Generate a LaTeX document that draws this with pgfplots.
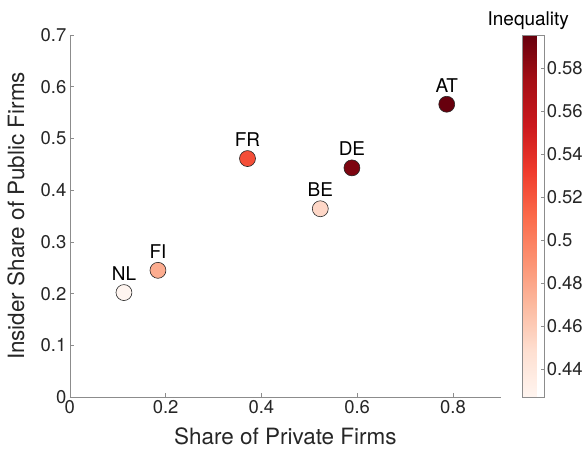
\documentclass[border=0pt]{standalone}
\usepackage{fontspec}
\setmainfont{TeX Gyre Heros}
\usepackage{pgfplots}
\pgfplotsset{compat=1.18}
\definecolor{txt}{RGB}{38,38,38}
\definecolor{axl}{RGB}{140,140,140}
\pgfplotstableread{
x y c lbl
0.113 0.202 0.427 NL
0.184 0.245 0.477 FI
0.371 0.461 0.524 FR
0.523 0.364 0.453 BE
0.589 0.443 0.588 DE
0.787 0.566 0.5954 AT
}\pointsdata
\begin{document}
\begin{tikzpicture}
\begin{axis}[
  name=ax,
  scale only axis, width=432bp, height=363bp,
  xmin=0, xmax=0.9, ymin=0, ymax=0.7,
  xtick={0,0.2,0.4,0.6,0.8},
  ytick={0,0.1,0.2,0.3,0.4,0.5,0.6,0.7},
  axis x line*=bottom, axis y line*=left,
  axis line style={-, draw=axl, line width=0.6bp},
  tick align=inside, major tick length=4bp,
  tick style={draw=axl, line width=0.5bp},
  /pgf/number format/assume math mode=true,
  ticklabel style={font=\fontsize{18.5bp}{18.5bp}\selectfont, text=txt},
  xlabel={Share of Private Firms},
  ylabel={Insider Share of Public Firms},
  label style={font=\fontsize{22.5bp}{22.5bp}\selectfont, text=txt},
  xlabel style={at={(axis description cs:0.5,-0.1074)}, anchor=center},
  ylabel style={at={(axis description cs:-0.125,0.5)}, anchor=center},
  colormap={reds}{rgb255=(255,245,240) rgb255=(254,224,210) rgb255=(252,187,161) rgb255=(252,146,114) rgb255=(251,106,74) rgb255=(239,59,44) rgb255=(203,24,29) rgb255=(165,15,21) rgb255=(103,0,13)},
  point meta min=0.427, point meta max=0.5954,
  colorbar,
  colorbar style={
    at={(parent axis.north east)}, anchor=north west, xshift=13bp,
    width=22bp,
    ytick={0.44,0.46,0.48,0.5,0.52,0.54,0.56,0.58},
    ytick pos=right, yticklabel pos=right,
    tick align=inside, major tick length=3bp,
    tick style={draw=axl, line width=0.5bp},
    axis line style={draw=axl, line width=0.6bp},
    /pgf/number format/assume math mode=true,
    /pgf/number format/fixed, /pgf/number format/precision=2,
    yticklabel style={font=\fontsize{18.5bp}{18.5bp}\selectfont, text=txt, xshift=-1bp},
    title={Inequality},
    title style={font=\fontsize{19bp}{19bp}\selectfont, text=black, yshift=-4bp, xshift=-5bp},
  },
]
\addplot[scatter, only marks, mark=*, mark size=8bp,
  scatter/use mapped color={draw=black!85, fill=mapped color, line width=0.6bp},
  point meta=explicit,
] table[x=x, y=y, meta=c] {\pointsdata};
\addplot[only marks, mark=none, point meta=explicit symbolic,
  nodes near coords,
  nodes near coords style={anchor=base, inner sep=0pt, yshift=12bp, font=\fontsize{19bp}{19bp}\selectfont, text=black},
] table[x=x, y=y, meta=lbl] {\pointsdata};
\end{axis}
\path[use as bounding box] ([shift={(-70bp,-60bp)}]ax.south west) rectangle ([shift={(84bp,35bp)}]ax.north east);
\end{tikzpicture}
\end{document}
